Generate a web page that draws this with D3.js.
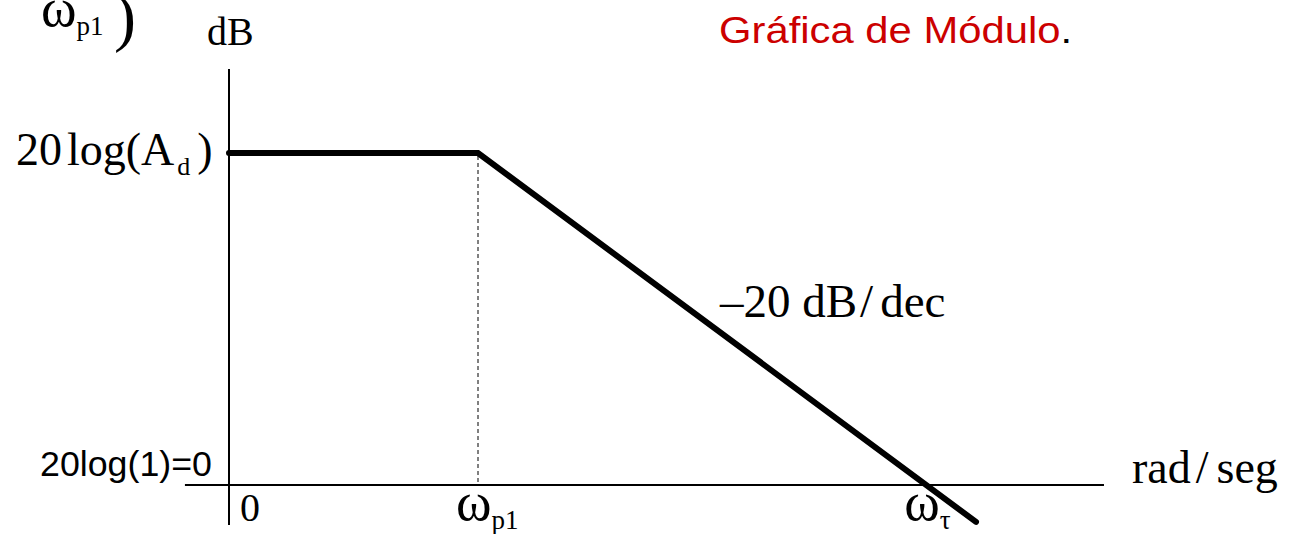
<!DOCTYPE html>
<html>
<head>
<meta charset="utf-8">
<script src="https://cdn.jsdelivr.net/npm/d3@7"></script>
<style>
  html, body { margin: 0; padding: 0; background: #fff; }
  svg { display: block; }
</style>
</head>
<body>
<svg id="chart" width="1295" height="534"></svg>
<script>
// Bode magnitude asymptote: flat at 20log(Ad) up to ωp1, then −20 dB/decade
const freqDecades = [0, 1, 3];          // log-frequency breakpoints (decades)
const gainDb      = [36, 36, -4];       // asymptotic gain at each breakpoint (dB)
const xTickPos    = [0, 1, 2.8];        // origin, pole, unity-gain crossing
const xTickMain   = ["0", "ω", "ω"];
const xTickSub    = ["", "p1", "τ"];

const svg = d3.select("#chart");

const x = d3.scaleLinear().domain([0, 1]).range([229, 478]);
const y = d3.scaleLinear().domain([0, 36]).range([485, 153]);

const serif = "'Liberation Serif', 'Times New Roman', serif";
const sans  = "'Liberation Sans', Arial, sans-serif";

// axes
svg.append("line")
  .attr("x1", x(-0.177)).attr("x2", x(3.514))
  .attr("y1", y(0)).attr("y2", y(0))
  .attr("stroke", "#000").attr("stroke-width", 2);
svg.append("line")
  .attr("x1", x(0)).attr("x2", x(0))
  .attr("y1", y(45.1)).attr("y2", y(-4.35))
  .attr("stroke", "#000").attr("stroke-width", 2);

// dashed guide at the pole frequency
svg.append("line")
  .attr("x1", x(xTickPos[1])).attr("x2", x(xTickPos[1]))
  .attr("y1", y(gainDb[1]) + 3).attr("y2", y(0))
  .attr("stroke", "#000").attr("stroke-width", 1)
  .attr("stroke-dasharray", "4,3");

// asymptote
const pts = freqDecades.map((f, i) => [f, gainDb[i]]);
svg.append("path")
  .datum(pts)
  .attr("d", d3.line().x(d => x(d[0])).y(d => y(d[1])))
  .attr("fill", "none").attr("stroke", "#000")
  .attr("stroke-width", 6)
  .attr("stroke-linecap", "round").attr("stroke-linejoin", "miter");

// x tick labels
xTickPos.forEach((p, i) => {
  if (i === 0) {
    svg.append("text")
      .attr("font-family", serif).attr("font-size", 40)
      .attr("x", x(p) + 11).attr("y", 521).text(xTickMain[i]);
  } else {
    const t = svg.append("text")
      .attr("font-family", serif).attr("font-size", 54)
      .attr("x", x(p) - 22).attr("y", 520);
    t.append("tspan").text(xTickMain[i]);
    t.append("tspan").attr("font-size", 27).attr("dy", 9).text(xTickSub[i]);
  }
});

// y labels
const yl = svg.append("text")
  .attr("font-family", serif).attr("font-size", 46)
  .attr("x", 16).attr("y", y(gainDb[0]) + 12);
yl.append("tspan").text("20");
yl.append("tspan").attr("dx", 5).text("log(A");
yl.append("tspan").attr("font-size", 26).attr("dy", 10).attr("dx", 3).text("d");
yl.append("tspan").attr("dy", -10).attr("dx", 7).text(")");

svg.append("text")
  .attr("font-family", sans).attr("font-size", 35)
  .attr("x", 40).attr("y", y(0) - 9)
  .attr("textLength", 172).attr("lengthAdjust", "spacingAndGlyphs")
  .text("20log(1)=0");

// axis titles
svg.append("text")
  .attr("font-family", serif).attr("font-size", 40)
  .attr("x", 207).attr("y", 45).text("dB");

const unit = svg.append("text")
  .attr("font-family", serif).attr("font-size", 46)
  .attr("x", 1132).attr("y", 483);
unit.append("tspan").text("rad");
unit.append("tspan").attr("dx", 5).text("/");
unit.append("tspan").attr("dx", 8).text("seg");

// slope annotation
const slope = svg.append("text")
  .attr("font-family", serif).attr("font-size", 47)
  .attr("x", 720).attr("y", 317);
slope.append("tspan").text("–20 dB");
slope.append("tspan").attr("dx", 3).text("/");
slope.append("tspan").attr("dx", 7).text("dec");

// top-left fragment: ωp1 with closing bracket
const tl = svg.append("text")
  .attr("font-family", serif).attr("font-size", 54)
  .attr("x", 41).attr("y", 26);
tl.append("tspan").text("ω");
tl.append("tspan").attr("font-size", 27).attr("dy", 9).text("p1");
svg.append("text")
  .attr("font-family", serif).attr("font-size", 66)
  .attr("font-weight", 300)
  .attr("x", 114).attr("y", 39).text(")");

// title
const title = svg.append("text")
  .attr("font-family", sans).attr("font-size", 37)
  .attr("transform", "translate(719,43) scale(1.13,1)");
title.append("tspan").attr("fill", "#cc0000").text("Gráfica de Módulo");
title.append("tspan").attr("fill", "#000").text(".");
</script>
</body>
</html>
